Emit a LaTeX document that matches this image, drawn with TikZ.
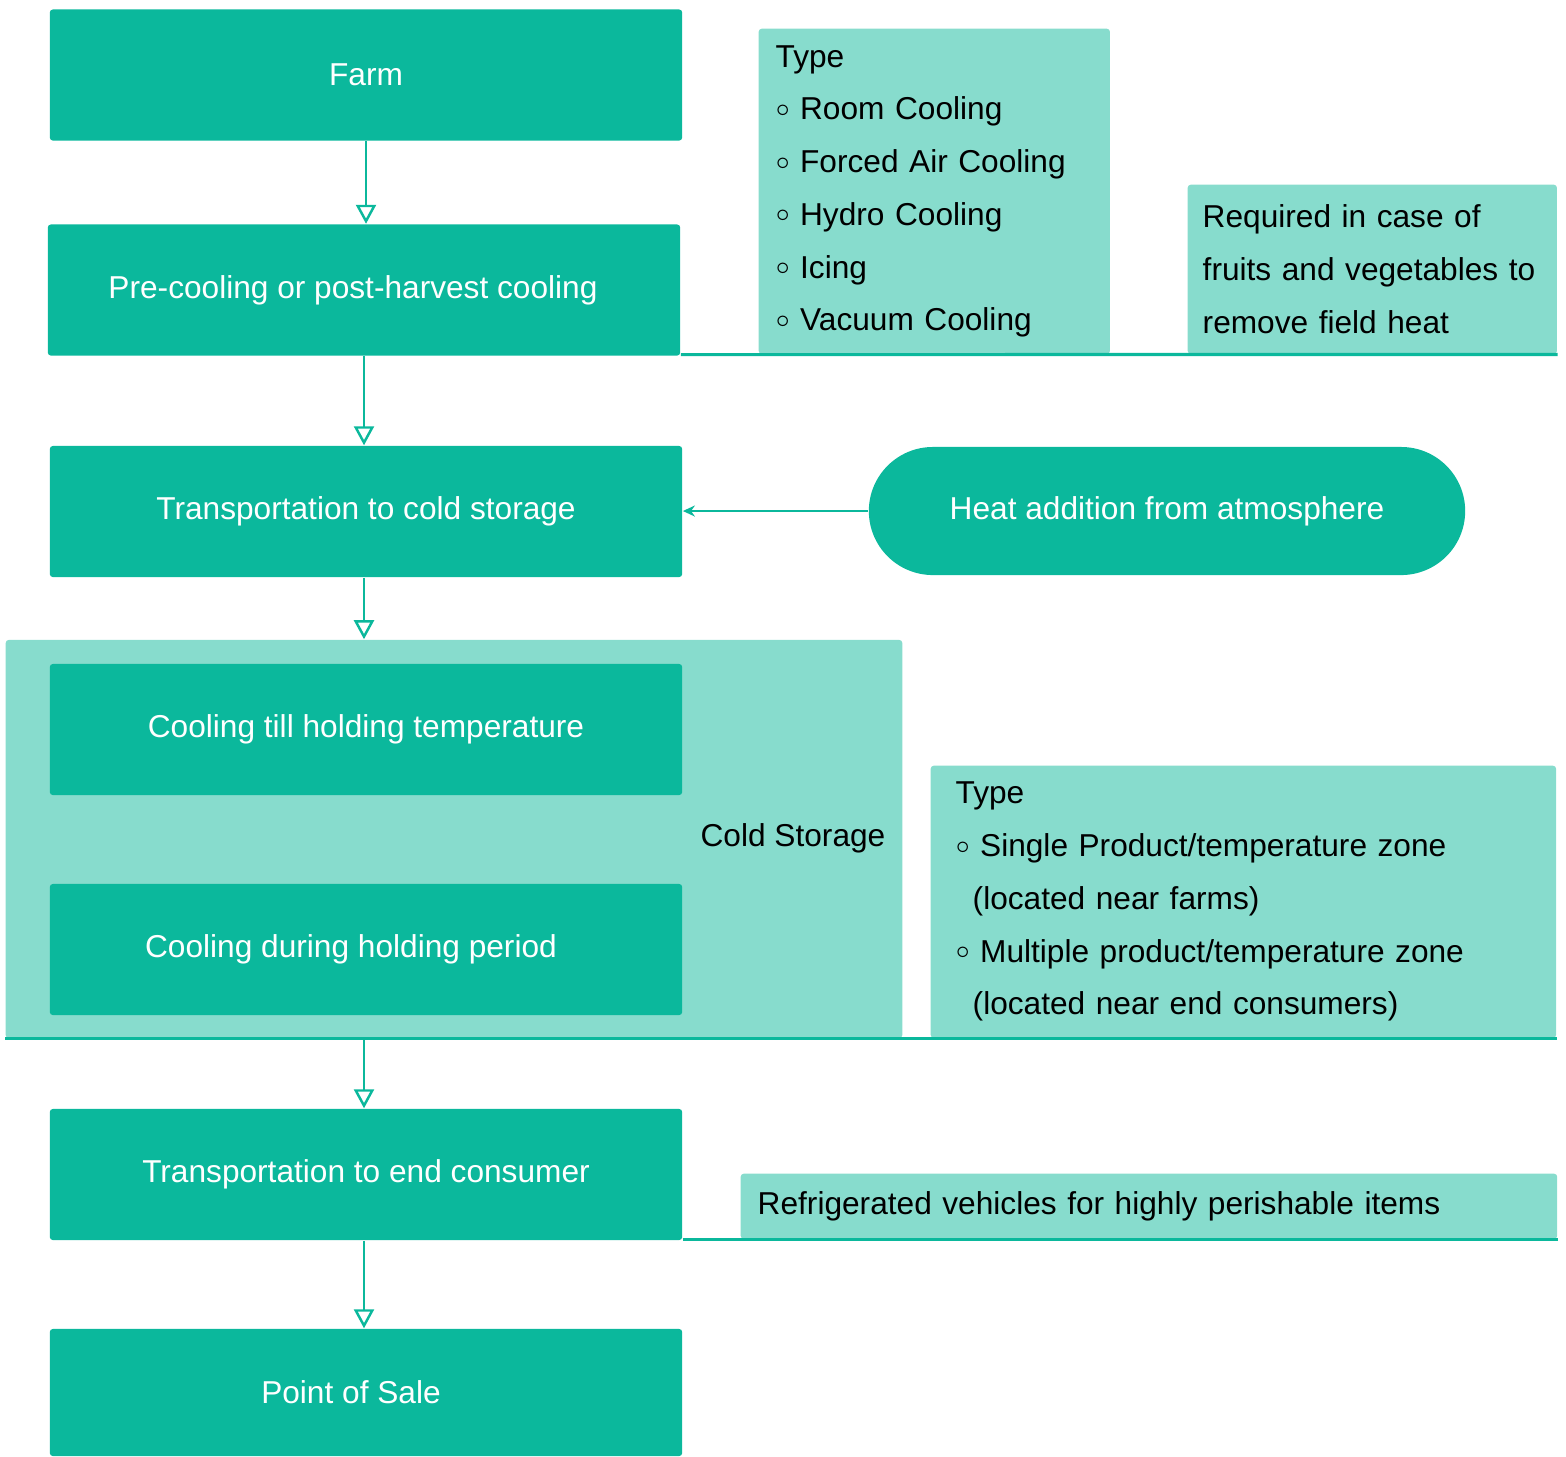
\documentclass[tikz,border=0pt]{standalone}
\usepackage{fontspec}
\setmainfont{Liberation Sans}
\usetikzlibrary{arrows.meta,calc}
\definecolor{boxteal}{HTML}{0BB89C}
\definecolor{boxlight}{HTML}{87DCCD}
\newcommand{\itm}{\raisebox{0.035cm}{\scriptsize$\circ$}\hspace{0.1cm}}

\begin{document}
\begin{tikzpicture}[x=0.01cm,y=-0.01cm,>=Stealth,
    stepbox/.style={fill=boxteal,text=white,rounded corners=0.85pt,minimum width=6.32cm,minimum height=1.31cm,inner sep=0pt,font=\fontsize{9}{15}\selectfont},
    infobox/.style={fill=boxlight,text=black,rounded corners=0.85pt,inner ysep=0pt,align=left,font=\fontsize{9}{15}\selectfont},
    flow/.style={draw=boxteal,line width=0.7pt,-{Triangle[open,length=0.19cm,width=0.2cm]}},
    rule/.style={draw=boxteal,line width=0.9pt}]
    \useasboundingbox (0,0) rectangle (1566,1456);
    \begin{scope}
        \node[stepbox] (farm) at (366,75) {Farm};
        \node[stepbox] (pre) at (364,290) {Pre-cooling or post-harvest cooling\hspace*{0.22cm}};
        \node[stepbox] (trans) at (366,511.5) {Transportation to cold storage};
        \node[infobox,anchor=north west,inner xsep=0.17cm,text width=3.17cm,minimum height=3.25cm] (cooltypes) at (758,28)
            {Type\\ \itm Room Cooling\\ \itm Forced Air Cooling\\ \itm Hydro Cooling\\ \itm Icing\\ \itm Vacuum Cooling};
        \node[infobox,anchor=north west,inner xsep=0.15cm,text width=3.39cm,minimum height=1.69cm] (reqbox) at (1187,184)
            {Required in case of\\ fruits and vegetables to\\ remove field heat};
        \draw[rule] (pre.east |- cooltypes.south) -- (reqbox.south east);
        \draw[flow] (farm.south) -- (farm.south |- pre.north);
    \end{scope}
    \begin{scope}
        \node[stepbox,rounded corners=0.64cm,minimum width=5.96cm,minimum height=1.28cm] (heat) at (1167,511) {Heat addition from atmosphere};
        \draw[->,draw=boxteal,line width=0.7pt,>={Stealth[length=0.12cm,width=0.11cm]}] (heat.west) -- (heat.west -| trans.east);
        \draw[flow] (pre.south) -- (pre.south |- trans.north);
    \end{scope}
    \begin{scope}
        \node[fill=boxlight,rounded corners=0.85pt,minimum width=8.96cm,minimum height=3.98cm,inner sep=0pt] (cold) at (454,839) {};
        \node[stepbox] (hold1) at (366,729.5) {Cooling till holding temperature};
        \node[stepbox] (hold2) at (366,949.5) {Cooling during holding period\hspace*{0.3cm}};
        \node[font=\fontsize{9}{15}\selectfont] (coldlab) at (793,838) {Cold Storage};
        \node[infobox,anchor=north west,inner xsep=0.25cm,text width=5.75cm,minimum height=2.72cm] (coldtypes) at (930,765)
            {Type\\ \itm Single Product/temperature zone\\ \hspace*{0.17cm}(located near farms)\\ \itm Multiple product/temperature zone\\ \hspace*{0.17cm}(located near end consumers)};
        \draw[rule] (cold.south west) -- (cold.south west -| coldtypes.east);
        \draw[flow] (pre.south |- trans.south) -- (pre.south |- cold.north);
    \end{scope}
    \begin{scope}
        \node[stepbox] (endc) at (366,1174.5) {Transportation to end consumer};
        \node[stepbox,minimum height=1.27cm] (sale) at (366,1392.5) {Point of Sale\hspace*{0.3cm}};
        \node[infobox,anchor=north west,inner xsep=0.17cm,text width=7.82cm,minimum height=0.65cm] (refr) at (740,1173)
            {Refrigerated vehicles for highly perishable items};
        \draw[rule] (endc.east |- refr.south) -- (refr.south east);
        \draw[flow] (pre.south |- cold.south) -- (pre.south |- endc.north);
        \draw[flow] (pre.south |- endc.south) -- (pre.south |- sale.north);
    \end{scope}
\end{tikzpicture}
\end{document}
